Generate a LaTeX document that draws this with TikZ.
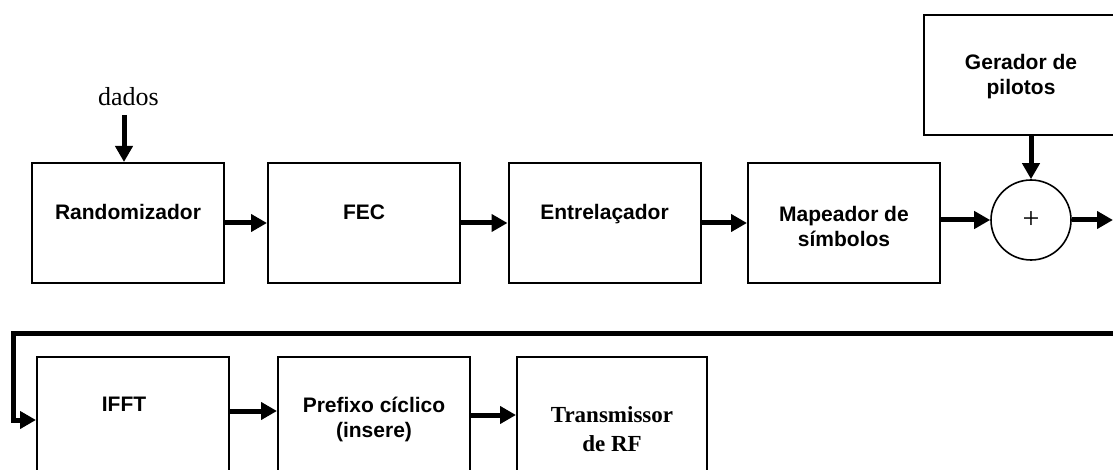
\documentclass[tikz,border=0pt]{standalone}
\usepackage{fontspec}
\setmainfont{Liberation Serif}
\newfontfamily\arialfont{Liberation Sans}
\usetikzlibrary{arrows.meta}
\begin{document}
\begin{tikzpicture}[x=1pt,y=-1pt,
  blk/.style={draw, line width=2pt, rectangle, minimum width=192pt, minimum height=120pt, inner sep=0pt},
  lbl/.style={font=\arialfont\bfseries\fontsize{21}{25}\selectfont, align=center, inner sep=0pt},
  serifbold/.style={font=\bfseries\fontsize{23}{29}\selectfont, align=center, inner sep=0pt},
  arr/.style={line width=5pt, -{Triangle[length=16pt,width=17pt]}},
  sumnode/.style={draw, circle, line width=1.6pt, minimum size=80pt, inner sep=0pt, font=\fontsize{30}{30}\selectfont}
]
\useasboundingbox (0,0) rectangle (1113,470);
\begin{scope}
\clip (0,0) rectangle (1113,470);

% upper chain
\node[blk] (rand) at (128,223) {};
\node[blk] (fec)  at (364,223) {};
\node[blk] (intl) at (604.5,223) {};
\node[blk] (map)  at (844,223) {};
\node[blk, minimum width=196pt] (gen) at (1022,75) {};
\node[sumnode] (sum) at (1031,220) {+};

\node[lbl, anchor=base] (trand) at (128,219.5) {Randomizador};
\node[lbl, anchor=base] (tfec)  at (364,219.5) {FEC};
\node[lbl, anchor=base] (tintl) at (604.5,219.5) {Entrelaçador};
\node[lbl] (tmap) at (844,226) {Mapeador de\\símbolos};
\node[lbl] (tgen) at (1021,77) {Gerador de\\pilotos};

% data input
\node[font=\fontsize{26}{30}\selectfont, inner sep=0pt] (dados) at (128.5,97) {dados};
\coordinate (din) at (124,115);
\draw[arr] (din) -- (din |- rand.north);

\draw[arr] (rand.east) -- (fec.west);
\draw[arr] (fec.east) -- (intl.west);
\draw[arr] (intl.east) -- (map.west);
\draw[arr] (map.east |- sum) -- (sum.west);
\draw[arr] (sum |- gen.south) -- (sum.north);
\coordinate (out) at (1113,220);
\draw[arr] (sum.east) -- (out);

% lower chain
\node[blk] (ifft) at (133,417) {};
\node[blk] (cp)   at (374,417) {};
\node[blk, minimum width=190pt] (rf) at (612,417) {};

\node[lbl, anchor=base] (tifft) at (124,411.5) {IFFT};
\node[lbl] (tcp) at (374,419) {Prefixo cíclico\\(insere)};
\node[serifbold] (trf) at (612,429) {Transmissor\\de RF};

% return path from the adder output
\coordinate (fbr) at (1125,333);
\coordinate (fbl) at (13,333);
\draw[line width=5pt, line join=miter, -{Triangle[length=16pt,width=17pt]}]
  (fbr) -- (fbl) -- (fbl |- 0,420) -- (ifft.west |- 0,420);

\draw[arr] (ifft.east |- 0,411) -- (cp.west |- 0,411);
\draw[arr] (cp.east |- 0,415) -- (rf.west |- 0,415);
\end{scope}
\end{tikzpicture}
\end{document}
